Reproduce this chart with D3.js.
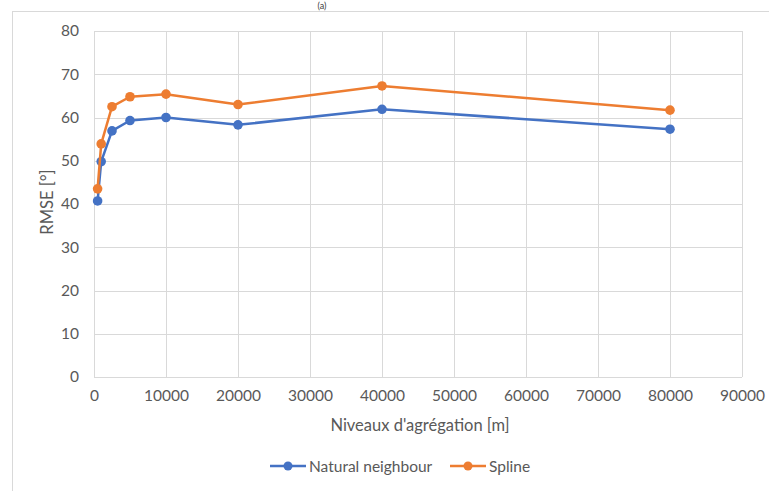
<!DOCTYPE html>
<html><head><meta charset="utf-8">
<script src="https://cdn.jsdelivr.net/npm/d3@7"></script>
<style>body{margin:0;background:#fff;} text{font-family:Lato,"Open Sans",sans-serif;}</style>
</head><body>
<svg id="c" width="769" height="491"></svg>
<script>
const levels = [500, 1000, 2500, 5000, 10000, 20000, 40000, 80000];
const naturalNeighbour = [40.7, 49.8, 56.9, 59.3, 60.0, 58.3, 61.9, 57.3];
const spline = [43.5, 53.9, 62.5, 64.8, 65.4, 63.0, 67.3, 61.7];
const xTicks = [0,10000,20000,30000,40000,50000,60000,70000,80000,90000];
const yTicks = [0,10,20,30,40,50,60,70,80];
const seriesNames = ["Natural neighbour", "Spline"];
const colors = ["#4472C4", "#ED7D31"];

const svg = d3.select("#c");
// outer frame
svg.append("rect").attr("x",12.5).attr("y",11.5).attr("width",800).attr("height",520)
  .attr("fill","none").attr("stroke","#d9d9d9");
svg.append("text").attr("x",322).attr("y",9).attr("text-anchor","middle")
  .attr("font-size",9).attr("fill","#404040").text("(a)");

const x = d3.scaleLinear().domain([0,90000]).range([94,742]);
const y = d3.scaleLinear().domain([0,80]).range([377,31]);

const grid = svg.append("g");
grid.selectAll("line.h").data(yTicks).join("line")
  .attr("x1",x(0)).attr("x2",x(90000)).attr("y1",d=>Math.round(y(d))+0.5).attr("y2",d=>Math.round(y(d))+0.5)
  .attr("stroke","#d9d9d9").attr("stroke-width",1);
grid.selectAll("line.v").data(xTicks).join("line")
  .attr("y1",y(0)).attr("y2",y(80)).attr("x1",d=>Math.round(x(d))+0.5).attr("x2",d=>Math.round(x(d))+0.5)
  .attr("stroke","#d9d9d9").attr("stroke-width",1);

const xAxis = d3.axisBottom(x).tickValues(xTicks).tickSize(0).tickPadding(13).tickFormat(d3.format("d"));
const gx = svg.append("g").attr("transform",`translate(0,${y(0)})`).call(xAxis);
gx.select(".domain").remove();
gx.selectAll("text").attr("font-size",15.5).attr("fill","#595959").style("font-family","Lato,sans-serif");

const yAxis = d3.axisLeft(y).tickValues(yTicks).tickSize(0).tickPadding(15);
const gy = svg.append("g").attr("transform",`translate(${x(0)},0)`).call(yAxis);
gy.select(".domain").remove();
gy.selectAll("text").attr("font-size",15.5).attr("fill","#595959").style("font-family","Lato,sans-serif");

svg.append("text").attr("x",420).attr("y",431).attr("text-anchor","middle")
  .attr("font-size",16.5).attr("fill","#595959").text("Niveaux d'agrégation [m]");
svg.append("text").attr("transform","translate(53,202) rotate(-90)").attr("text-anchor","middle")
  .attr("font-size",16.5).attr("fill","#595959").text("RMSE [°]");

const data = [naturalNeighbour, spline];
const line = d3.line().x((d,i)=>x(levels[i])).y(d=>y(d));
data.forEach((vals,k)=>{
  svg.append("path").datum(vals).attr("d",line).attr("fill","none")
    .attr("stroke",colors[k]).attr("stroke-width",2.5).attr("stroke-linejoin","round");
  svg.selectAll(null).data(vals).join("circle")
    .attr("cx",(d,i)=>x(levels[i])).attr("cy",d=>y(d)).attr("r",4.8).attr("fill",colors[k]);
});

// legend
const legX = [270, 450];
seriesNames.forEach((name,k)=>{
  const g = svg.append("g").attr("transform",`translate(${legX[k]},466)`);
  g.append("line").attr("x1",0).attr("x2",36).attr("y1",0).attr("y2",0).attr("stroke",colors[k]).attr("stroke-width",2.5);
  g.append("circle").attr("cx",18).attr("cy",0).attr("r",4.5).attr("fill",colors[k]);
  g.append("text").attr("x",39).attr("y",5.5).attr("font-size",15.5).attr("fill","#595959").text(name);
});
</script>
</body></html>
